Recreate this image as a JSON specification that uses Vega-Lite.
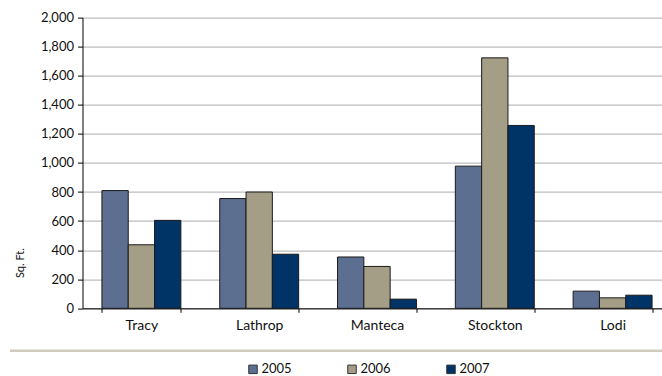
{
  "$schema": "https://vega.github.io/schema/vega-lite/v6.json",
  "autosize": {"type": "none"},
  "padding": {"left": 82.5, "top": 17.6, "right": 0, "bottom": 67.7},
  "width": 579.5,
  "height": 290.7,
  "background": "white",
  "config": {
    "font": "Lato",
    "view": {"stroke": null},
    "axis": {"labelFont": "Lato", "titleFont": "Lato", "labelColor": "#111", "titleColor": "#111"}
  },
  "data": {
    "values": [
      {"city": "Tracy", "year": "2005", "value": 810},
      {"city": "Tracy", "year": "2006", "value": 437},
      {"city": "Tracy", "year": "2007", "value": 605},
      {"city": "Lathrop", "year": "2005", "value": 755},
      {"city": "Lathrop", "year": "2006", "value": 800},
      {"city": "Lathrop", "year": "2007", "value": 372},
      {"city": "Manteca", "year": "2005", "value": 353},
      {"city": "Manteca", "year": "2006", "value": 288},
      {"city": "Manteca", "year": "2007", "value": 63},
      {"city": "Stockton", "year": "2005", "value": 978},
      {"city": "Stockton", "year": "2006", "value": 1723},
      {"city": "Stockton", "year": "2007", "value": 1258},
      {"city": "Lodi", "year": "2005", "value": 118},
      {"city": "Lodi", "year": "2006", "value": 72},
      {"city": "Lodi", "year": "2007", "value": 90}
    ]
  },
  "resolve": {"axis": {"x": "independent"}, "scale": {"x": "independent"}},
  "layer": [
    {
      "mark": {"type": "bar", "stroke": "#1a1a1a", "strokeWidth": 1},
      "encoding": {
        "x": {
          "field": "city", "type": "nominal", "sort": null,
          "scale": {"range": [0, 589], "paddingInner": 0.33, "paddingOuter": 0.165},
          "axis": {"orient": "bottom", "title": null, "labelAngle": 0, "labelFontSize": 14, "labelPadding": 6, "ticks": true, "tickBand": "extent", "tickSize": 4, "tickColor": "#000", "domainColor": "#000", "domainWidth": 1}
        },
        "xOffset": {"field": "year", "type": "nominal"},
        "y": {
          "field": "value", "type": "quantitative",
          "scale": {"domain": [0, 2000], "nice": false},
          "axis": {
            "title": "Sq. Ft.", "titleFontSize": 11, "titleFontWeight": "normal",
            "titleAngle": -90, "titleX": -62, "titleY": 245, "titleAlign": "center", "titleBaseline": "middle",
            "values": [0, 200, 400, 600, 800, 1000, 1200, 1400, 1600, 1800, 2000],
            "labelOverlap": false,
            "format": ",d", "labelFontSize": 13, "labelPadding": 4,
            "tickSize": 5, "tickColor": "#000", "domainColor": "#000",
            "grid": true, "gridColor": "#BDBDBD", "gridWidth": 1.2
          }
        },
        "color": {
          "field": "year", "type": "nominal",
          "scale": {"domain": ["2005", "2006", "2007"], "range": ["#5D6F91", "#A59E87", "#003366"]},
          "legend": {
            "title": null, "orient": "none", "direction": "horizontal",
            "legendX": 164, "legendY": 345, "padding": 0,
            "symbolType": "square", "symbolSize": 72, "symbolStrokeColor": "#333", "symbolStrokeWidth": 1,
            "labelFontSize": 13, "labelColor": "#111", "labelOffset": 2, "columnPadding": 53
          }
        }
      }
    },
    {
      "mark": {"type": "bar", "opacity": 0},
      "encoding": {
        "x": {
          "field": "city", "type": "nominal", "sort": null,
          "scale": {"range": [-73, 580]},
          "axis": {"orient": "bottom", "title": null, "labels": false, "ticks": false, "offset": 42, "domainColor": "#D0CBBE", "domainWidth": 2.5, "grid": false}
        }
      }
    }
  ]
}
